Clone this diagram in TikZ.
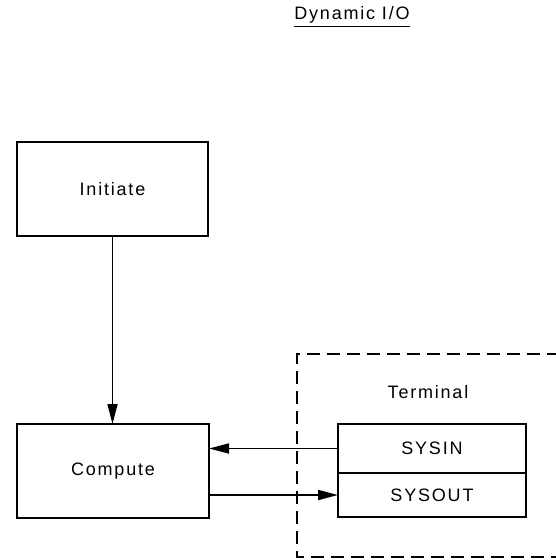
\documentclass[tikz,border=0pt]{standalone}
\usepackage{fontspec}
\setmainfont{Liberation Sans}[LetterSpace=10]
\usetikzlibrary{arrows.meta}
\begin{document}
\begin{tikzpicture}[x=0.75pt,y=-0.75pt,
  lbl/.style={font=\fontsize{13.5}{16}\selectfont},
  box/.style={draw,line width=1.4pt,inner sep=0pt,outer sep=0pt,lbl},
  arr/.style={line width=1.3pt,-{Triangle[length=15pt,width=7.5pt]}},
  dashbox/.style={line width=1.2pt,dash pattern=on 10pt off 5pt}]
\useasboundingbox (0,0) rectangle (556,560);
\node[lbl,anchor=base,inner sep=0pt] (title) at (352,20) {Dynamic I/O};
\draw[line width=0.9pt] ([yshift=-5pt]title.base west) -- ([yshift=-5pt]title.base east);
\node[box,minimum width=143.25pt,minimum height=70.5pt] (init) at (112.5,189) {Initiate};
\node[box,minimum width=144pt,minimum height=70.5pt] (comp) at (113,471) {Compute};
\node[box,minimum width=141pt,minimum height=36.75pt] (sysin) at (432,448.5) {SYSIN};
\node[box,minimum width=141pt,minimum height=33pt] (sysout) at (432,495) {SYSOUT};
\node[lbl,inner sep=0pt] (term) at (428,392) {Terminal};
\coordinate (dtr) at (600,354);
\coordinate (dtl) at (297,354);
\coordinate (dbl) at (297,557);
\coordinate (dbr) at (600,557);
\draw[dashbox] (dtr) -- (dtl) -- (dbl) -- (dbr);
\draw[arr] (init.south) -- (init.south |- comp.north);
\draw[arr] (sysin.west) -- (sysin.west -| comp.east);
\draw[arr] (sysout.west -| comp.east) -- (sysout.west);
\end{tikzpicture}
\end{document}
